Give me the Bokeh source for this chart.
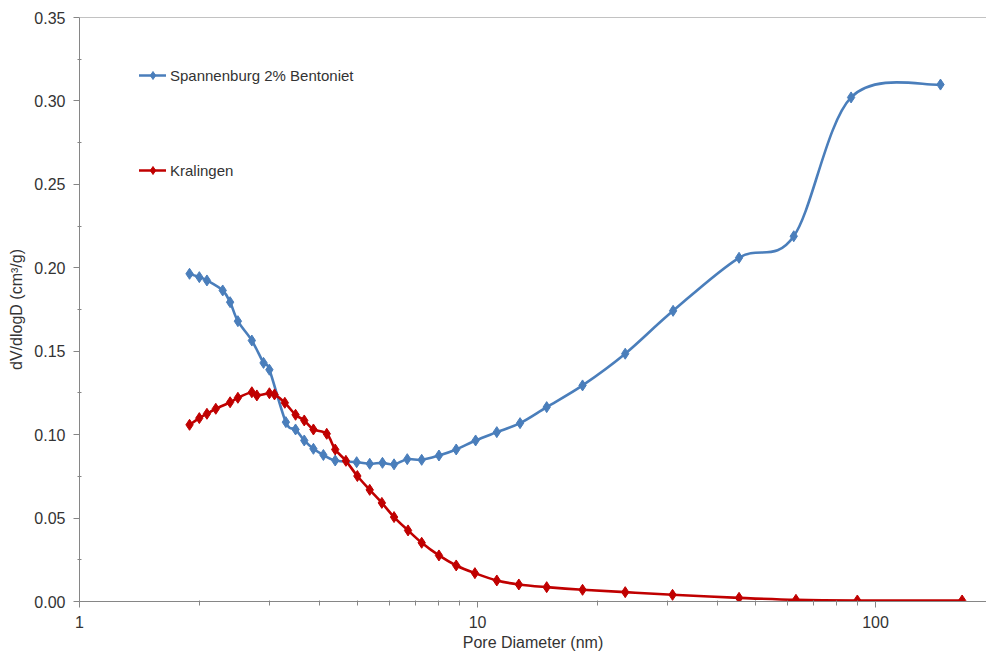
import numpy as np
from bokeh.plotting import figure
from bokeh.models import FixedTicker, Legend, LegendItem, Span, PrintfTickFormatter
from bokeh.embed import file_html
from bokeh.resources import INLINE

# Pore size distributions (BJH, dV/dlogD in cm3/g vs pore diameter in nm)
spannenburg_d = [1.89, 2.00, 2.09, 2.29, 2.39, 2.50, 2.71, 2.90, 3.00, 3.30,
                 3.49, 3.67, 3.87, 4.10, 4.39, 4.97, 5.36, 5.77, 6.17, 6.66,
                 7.24, 8.00, 8.84, 9.89, 11.18, 12.79, 14.92, 18.36, 23.5, 31.0,
                 45.4, 62.3, 86.8, 145.6]
spannenburg_v = [0.1964, 0.1944, 0.1924, 0.1864, 0.1794, 0.1680, 0.1564, 0.1430, 0.1389, 0.1075,
                 0.1031, 0.0965, 0.0915, 0.0878, 0.0845, 0.0835, 0.0825, 0.0831, 0.0822, 0.0853,
                 0.0849, 0.0875, 0.0911, 0.0965, 0.1015, 0.1069, 0.1165, 0.1295, 0.1485, 0.1742,
                 0.2060, 0.2189, 0.3021, 0.3098]

kralingen_d = [1.89, 2.00, 2.09, 2.20, 2.39, 2.50, 2.71, 2.79, 3.00, 3.09,
               3.28, 3.49, 3.67, 3.87, 4.18, 4.39, 4.67, 4.99, 5.36, 5.75,
               6.17, 6.69, 7.24, 8.00, 8.84, 9.85, 11.18, 12.7, 14.92, 18.36,
               23.5, 30.9, 45.4, 63.1, 90.0, 165.0]
kralingen_v = [0.1059, 0.1099, 0.1125, 0.1155, 0.1194, 0.1221, 0.1254, 0.1235, 0.1248, 0.1241,
               0.1191, 0.1119, 0.1085, 0.1031, 0.1005, 0.0911, 0.0843, 0.0752, 0.0669, 0.0591,
               0.0506, 0.0426, 0.0352, 0.0276, 0.0216, 0.0170, 0.0126, 0.0102, 0.0086, 0.0070,
               0.0056, 0.0040, 0.0022, 0.0010, 0.0006, 0.0006]

x_major_ticks = [1, 10, 100]
x_tick_labels = {1: "1", 10: "10", 100: "100"}
x_minor_ticks = [m * 10 ** e for e in range(0, 3) for m in range(2, 10)]
y_major_ticks = [0.00, 0.05, 0.10, 0.15, 0.20, 0.25, 0.30, 0.35]
y_minor_ticks = [0.025, 0.075, 0.125, 0.175, 0.225, 0.275, 0.325]

BLUE = "#4A7EBB"
RED = "#C00000"
AXIS = "#868686"
TEXT = "#333333"
FONT = "Liberation Sans"


def smooth_segments(xs, ys, k=1.0 / 6.0):
    """Cubic Bezier control points (Catmull-Rom style) in log-x space."""
    lx = np.log10(np.asarray(xs, dtype=float))
    y = np.asarray(ys, dtype=float)
    n = len(lx)
    px = np.concatenate([[lx[0]], lx, [lx[-1]]])
    py = np.concatenate([[y[0]], y, [y[-1]]])
    cx0 = px[1:n] + (px[2:n + 1] - px[0:n - 1]) * k
    cy0 = py[1:n] + (py[2:n + 1] - py[0:n - 1]) * k
    cx1 = px[2:n + 1] - (px[3:n + 2] - px[1:n]) * k
    cy1 = py[2:n + 1] - (py[3:n + 2] - py[1:n]) * k
    return dict(x0=10 ** lx[:-1], y0=y[:-1], x1=10 ** lx[1:], y1=y[1:],
                cx0=10 ** cx0, cy0=cy0, cx1=10 ** cx1, cy1=cy1)


p = figure(width=986, height=655, x_axis_type="log", x_range=(1, 190), y_range=(0, 0.35),
           output_backend="svg", toolbar_location=None,
           min_border_left=79, min_border_right=0, min_border_top=17, min_border_bottom=54)
p.outline_line_color = None
p.xgrid.visible = False
p.ygrid.visible = False
p.background_fill_color = "white"
p.border_fill_color = "white"

# top frame line
p.add_layout(Span(location=0.35, dimension="width", line_color=AXIS, line_width=1))

legend_items = []
for name, d, v, color in [("Spannenburg 2% Bentoniet", spannenburg_d, spannenburg_v, BLUE),
                          ("Kralingen", kralingen_d, kralingen_v, RED)]:
    seg = smooth_segments(d, v)
    curve = p.bezier(line_color=color, line_width=2.6, line_cap="round", **seg)
    pts = p.scatter(d, v, marker="diamond", size=11,
                    fill_color=color, line_color=color, line_width=1)
    legend_items.append(LegendItem(label=name, renderers=[curve, pts]))

legend = Legend(items=legend_items, location=(60, 421), orientation="vertical",
                spacing=75, glyph_height=20, glyph_width=27, label_height=20,
                label_standoff=4, padding=0, margin=0,
                border_line_color=None, background_fill_alpha=0,
                label_text_font=FONT, label_text_font_size="15px", label_text_color=TEXT)
p.add_layout(legend)

# x axis
xa = p.xaxis[0]
xa.ticker = FixedTicker(ticks=x_major_ticks, minor_ticks=x_minor_ticks)
xa.major_label_overrides = x_tick_labels
xa.axis_label = "Pore Diameter (nm)"

# y axis
ya = p.yaxis[0]
ya.ticker = FixedTicker(ticks=y_major_ticks, minor_ticks=y_minor_ticks)
ya.formatter = PrintfTickFormatter(format="%.2f")
ya.axis_label = "dV/dlogD (cm³/g)"

for ax in (xa, ya):
    ax.axis_line_color = AXIS
    ax.major_tick_line_color = AXIS
    ax.minor_tick_line_color = AXIS
    ax.major_tick_out = 6
    ax.major_tick_in = 0
    ax.major_label_text_font = FONT
    ax.major_label_text_font_size = "16px"
    ax.major_label_text_color = TEXT
    ax.axis_label_text_font = FONT
    ax.axis_label_text_font_size = "16px"
    ax.axis_label_text_font_style = "normal"
    ax.axis_label_text_color = TEXT

xa.minor_tick_out = 4
xa.minor_tick_in = 1
xa.major_label_standoff = 8
xa.axis_label_standoff = 3
ya.minor_tick_out = 2
ya.minor_tick_in = 2
ya.major_label_standoff = 8
ya.axis_label_standoff = 6

open("out.html", "w").write(file_html(p, INLINE))
